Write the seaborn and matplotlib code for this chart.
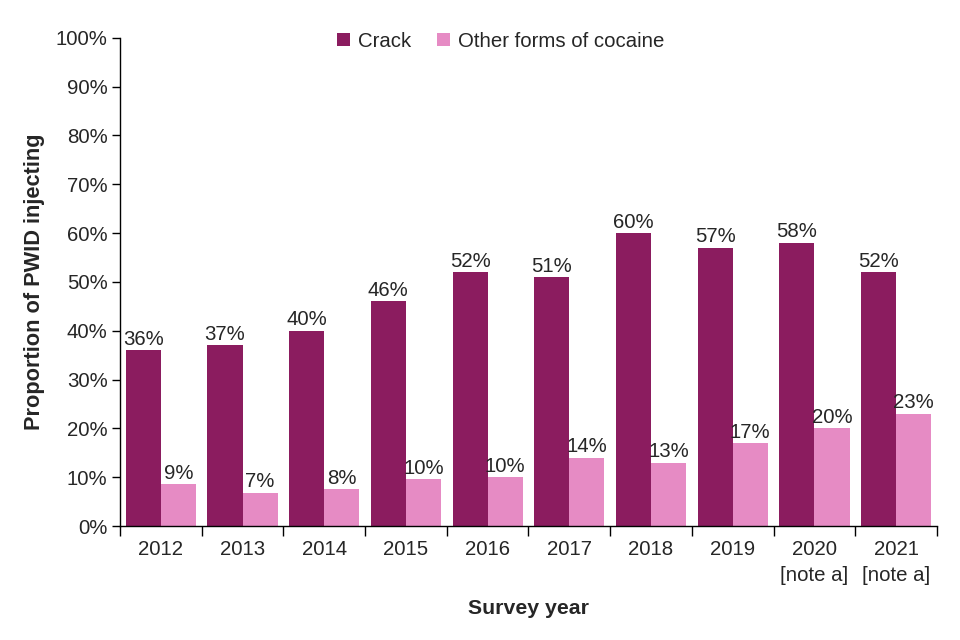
import numpy as np
import pandas as pd
import seaborn as sns
import matplotlib.pyplot as plt
from matplotlib.ticker import FuncFormatter, FixedLocator

years = ["2012", "2013", "2014", "2015", "2016", "2017", "2018", "2019",
         "2020\n[note a]", "2021\n[note a]"]
crack = [36, 37, 40, 46, 52, 51, 60, 57, 58, 52]
other = [8.6, 6.8, 7.6, 9.6, 10.0, 14, 13, 17, 20, 23]
series = ["Crack", "Other forms of cocaine"]
colours = ["#8B1C5F", "#E68BC4"]

df = pd.DataFrame({
    "year": years * 2,
    "value": crack + other,
    "series": [series[0]] * len(years) + [series[1]] * len(years),
})

sns.set_style("white")
plt.rcParams['font.family'] = ['Liberation Sans', 'DejaVu Sans']
fs = 14.7

fig = plt.figure(figsize=(9.6, 6.4), dpi=100)
ax = fig.add_axes([0.125, 0.178, 0.851, 0.763])

sns.barplot(data=df, x="year", y="value", hue="series", palette=colours,
            width=0.86, gap=0, saturation=1, linewidth=0, ax=ax, legend=True)

for cont in ax.containers:
    ax.bar_label(cont, labels=[f"{v:.0f}%" for v in cont.datavalues],
                 fontsize=fs, padding=1)

ax.set_ylim(0, 100)
ax.set_xlim(-0.5, len(years) - 0.5)
ax.yaxis.set_major_locator(FixedLocator(np.arange(0, 101, 10)))
ax.yaxis.set_major_formatter(FuncFormatter(lambda v, p: f"{v:.0f}%"))
ax.tick_params(axis="y", which="major", direction="out", length=6, width=1,
               labelsize=fs, left=True, color="black", pad=3)
ax.tick_params(axis="x", which="major", length=0, labelsize=fs, pad=10)
for lab in ax.get_xticklabels():
    lab.set_linespacing(1.45)
ax.xaxis.set_minor_locator(FixedLocator(np.arange(-0.5, len(years), 1)))
ax.tick_params(axis="x", which="minor", direction="out", length=7, width=1,
               bottom=True, color="black")

for s in ["top", "right"]:
    ax.spines[s].set_visible(False)
for s in ["left", "bottom"]:
    ax.spines[s].set_color("black")
    ax.spines[s].set_linewidth(1)

ax.set_xlabel("Survey year", fontsize=15.3, fontweight="bold", labelpad=10)
ax.set_ylabel("Proportion of PWID injecting", fontsize=15.7, fontweight="bold", labelpad=8)

leg = ax.legend(loc="upper center", bbox_to_anchor=(0.466, 1.05), ncol=2,
                frameon=False, fontsize=fs, handlelength=0.6, handleheight=0.6,
                handletextpad=0.4, columnspacing=1.3)

fig.savefig("out.png", dpi=100)
plt.close(fig)
